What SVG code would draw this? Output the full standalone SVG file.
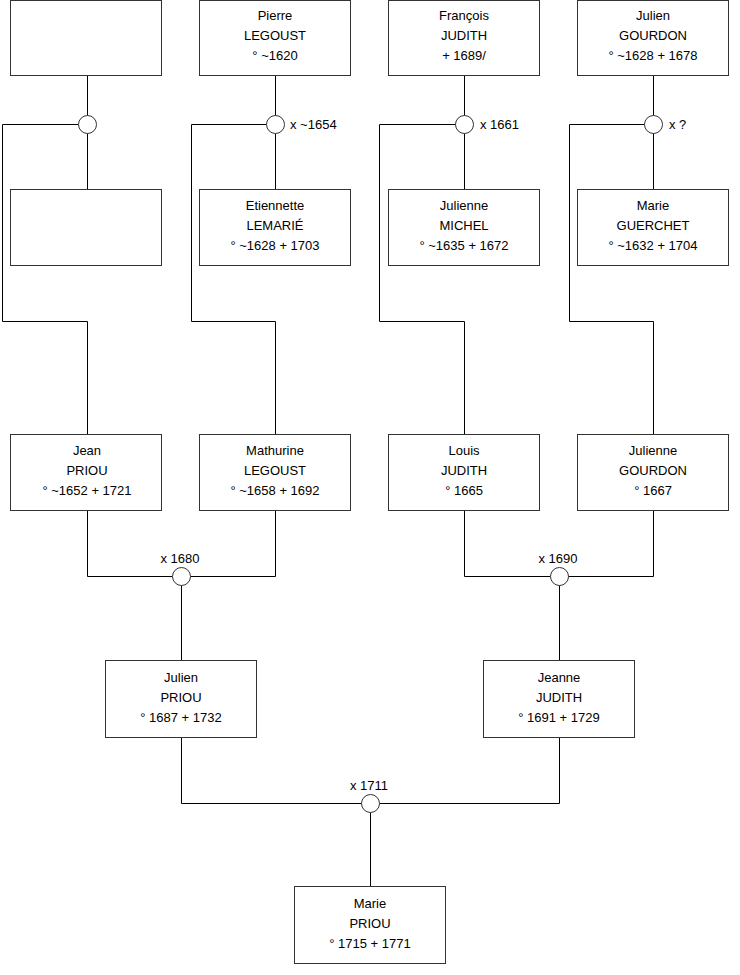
<svg xmlns="http://www.w3.org/2000/svg" width="740" height="975" viewBox="0 0 740 975">
<style>
.box{fill:#fff;stroke:#333;stroke-width:1}
.ln{fill:none;stroke:#000;stroke-width:1}
.c{fill:#fff;stroke:#333;stroke-width:1}
text{font-family:"Liberation Sans",Arial,sans-serif;font-size:13px;fill:#000}
.m{text-anchor:middle}
</style>
<rect width="740" height="975" fill="#fff"/>
<g id="connectors">
<path class="ln" d="M87.5 75.5V189.5M87.5 124.5H2.5V321.5H87.5V434.5"/>
<path class="ln" d="M275.5 75.5V189.5M275.5 124.5H191.5V321.5H275.5V434.5"/>
<path class="ln" d="M464.5 75.5V189.5M464.5 124.5H379.5V321.5H464.5V434.5"/>
<path class="ln" d="M653.5 75.5V189.5M653.5 124.5H569.5V321.5H653.5V434.5"/>
<path class="ln" d="M87.5 510.5V576.5H275.5V510.5M181.5 576.5V660.5"/>
<path class="ln" d="M464.5 510.5V576.5H653.5V510.5M559.5 576.5V660.5"/>
<path class="ln" d="M181.5 737.5V803.5H559.5V737.5M370.5 803.5V886.5"/>
</g>
<g id="u1"><circle class="c" cx="87.5" cy="124.5" r="9"/></g>
<g id="u2"><circle class="c" cx="275.5" cy="124.5" r="9"/><text x="290" y="129">x ~1654</text></g>
<g id="u3"><circle class="c" cx="464.5" cy="124.5" r="9"/><text x="480" y="129">x 1661</text></g>
<g id="u4"><circle class="c" cx="653.5" cy="124.5" r="9"/><text x="669" y="129">x ?</text></g>
<g id="u5"><circle class="c" cx="181.5" cy="576.5" r="9"/><text class="m" x="180" y="563">x 1680</text></g>
<g id="u6"><circle class="c" cx="559.5" cy="576.5" r="9"/><text class="m" x="558" y="563">x 1690</text></g>
<g id="u7"><circle class="c" cx="370.5" cy="803.5" r="9"/><text class="m" x="369" y="790">x 1711</text></g>

<g id="p1"><rect class="box" x="10.5" y="0.5" width="151" height="75"/></g>
<g id="p2"><rect class="box" x="199.5" y="0.5" width="151" height="75"/>
<text class="m" x="275" y="20">Pierre</text><text class="m" x="275" y="40">LEGOUST</text><text class="m" x="275" y="60">° ~1620</text></g>
<g id="p3"><rect class="box" x="388.5" y="0.5" width="151" height="75"/>
<text class="m" x="464" y="20">François</text><text class="m" x="464" y="40">JUDITH</text><text class="m" x="464" y="60"> + 1689/</text></g>
<g id="p4"><rect class="box" x="577.5" y="0.5" width="151" height="75"/>
<text class="m" x="653" y="20">Julien</text><text class="m" x="653" y="40">GOURDON</text><text class="m" x="653" y="60">° ~1628 + 1678</text></g>

<g id="p5"><rect class="box" x="10.5" y="189.5" width="151" height="76"/></g>
<g id="p6"><rect class="box" x="199.5" y="189.5" width="151" height="76"/>
<text class="m" x="275" y="210">Etiennette</text><text class="m" x="275" y="230">LEMARIÉ</text><text class="m" x="275" y="250">° ~1628 + 1703</text></g>
<g id="p7"><rect class="box" x="388.5" y="189.5" width="151" height="76"/>
<text class="m" x="464" y="210">Julienne</text><text class="m" x="464" y="230">MICHEL</text><text class="m" x="464" y="250">° ~1635 + 1672</text></g>
<g id="p8"><rect class="box" x="577.5" y="189.5" width="151" height="76"/>
<text class="m" x="653" y="210">Marie</text><text class="m" x="653" y="230">GUERCHET</text><text class="m" x="653" y="250">° ~1632 + 1704</text></g>

<g id="p9"><rect class="box" x="10.5" y="434.5" width="151" height="76"/>
<text class="m" x="87" y="455">Jean</text><text class="m" x="87" y="475">PRIOU</text><text class="m" x="87" y="495">° ~1652 + 1721</text></g>
<g id="p10"><rect class="box" x="199.5" y="434.5" width="151" height="76"/>
<text class="m" x="275" y="455">Mathurine</text><text class="m" x="275" y="475">LEGOUST</text><text class="m" x="275" y="495">° ~1658 + 1692</text></g>
<g id="p11"><rect class="box" x="388.5" y="434.5" width="151" height="76"/>
<text class="m" x="464" y="455">Louis</text><text class="m" x="464" y="475">JUDITH</text><text class="m" x="464" y="495">° 1665</text></g>
<g id="p12"><rect class="box" x="577.5" y="434.5" width="151" height="76"/>
<text class="m" x="653" y="455">Julienne</text><text class="m" x="653" y="475">GOURDON</text><text class="m" x="653" y="495">° 1667</text></g>

<g id="p13"><rect class="box" x="105.5" y="660.5" width="151" height="77"/>
<text class="m" x="181" y="682">Julien</text><text class="m" x="181" y="702">PRIOU</text><text class="m" x="181" y="722">° 1687 + 1732</text></g>
<g id="p14"><rect class="box" x="483.5" y="660.5" width="151" height="77"/>
<text class="m" x="559" y="682">Jeanne</text><text class="m" x="559" y="702">JUDITH</text><text class="m" x="559" y="722">° 1691 + 1729</text></g>

<g id="p15"><rect class="box" x="294.5" y="886.5" width="151" height="77"/>
<text class="m" x="370" y="908">Marie</text><text class="m" x="370" y="928">PRIOU</text><text class="m" x="370" y="948">° 1715 + 1771</text></g>
</svg>
